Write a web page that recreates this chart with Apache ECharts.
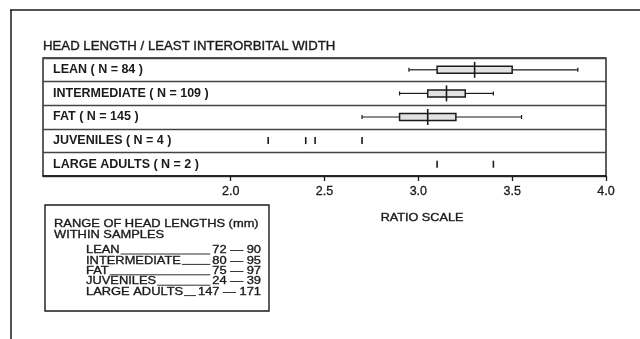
<!DOCTYPE html>
<html>
<head>
<meta charset="utf-8">
<script src="https://cdn.jsdelivr.net/npm/echarts@6/dist/echarts.min.js"></script>
<style>
  html, body { margin: 0; padding: 0; background: #fff; }
  #chart { width: 640px; height: 339px; }
</style>
</head>
<body>
<div id="chart"></div>
<script>
// Ratio of head length to least interorbital width, by sample group
const categories = [
  'LEAN ( N = 84 )',
  'INTERMEDIATE ( N = 109 )',
  'FAT ( N = 145 )',
  'JUVENILES ( N = 4 )',
  'LARGE ADULTS ( N = 2 )'
];
// Box-and-whisker summaries for the three large samples (rows 0..2)
const whiskerLow  = [2.95, 2.90, 2.70];
const boxLow      = [3.10, 3.05, 2.90];
const medians     = [3.30, 3.15, 3.05];
const boxHigh     = [3.50, 3.25, 3.20];
const whiskerHigh = [3.85, 3.40, 3.55];
// Individual observations for the small samples
const juvenileValues   = [2.20, 2.40, 2.45, 2.70];
const largeAdultValues = [3.10, 3.40];
// Axis ticks
const tickValues = [2.0, 2.5, 3.0, 3.5, 4.0];

// Range of head lengths (mm) within each sample
const rangeNames = ['LEAN', 'INTERMEDIATE', 'FAT', 'JUVENILES', 'LARGE ADULTS'];
const rangeMin = [72, 80, 75, 24, 147];
const rangeMax = [90, 95, 97, 39, 171];

const FONT = '"Liberation Sans", Arial, sans-serif';
const INK = '#1a1a1a';
const WIDE = 1.12;   // horizontal stretch for the lettering

const boxData = categories.slice(0, 3).map((c, i) =>
  [i, whiskerLow[i], boxLow[i], medians[i], boxHigh[i], whiskerHigh[i]]);
const pointData = juvenileValues.map(v => [v, 3])
  .concat(largeAdultValues.map(v => [v, 4]));

function renderBox(params, api) {
  const row = api.value(0);
  const pW0 = api.coord([api.value(1), row]);
  const pB0 = api.coord([api.value(2), row]);
  const pM  = api.coord([api.value(3), row]);
  const pB1 = api.coord([api.value(4), row]);
  const pW1 = api.coord([api.value(5), row]);
  const y = pM[1];
  const bh = 7, mh = 16, ch = 4;
  const lineStyle = { stroke: INK, lineWidth: 1.2 };
  return {
    type: 'group',
    children: [
      { type: 'line', shape: { x1: pW0[0], y1: y, x2: pB0[0], y2: y }, style: lineStyle },
      { type: 'line', shape: { x1: pB1[0], y1: y, x2: pW1[0], y2: y }, style: lineStyle },
      { type: 'line', shape: { x1: pW0[0], y1: y - ch / 2, x2: pW0[0], y2: y + ch / 2 }, style: lineStyle },
      { type: 'line', shape: { x1: pW1[0], y1: y - ch / 2, x2: pW1[0], y2: y + ch / 2 }, style: lineStyle },
      { type: 'rect', shape: { x: pB0[0], y: y - bh / 2, width: pB1[0] - pB0[0], height: bh },
        style: { fill: '#e2e2e2', stroke: INK, lineWidth: 1.5 } },
      { type: 'line', shape: { x1: pM[0], y1: y - mh / 2, x2: pM[0], y2: y + mh / 2 },
        style: { stroke: INK, lineWidth: 1.6 } }
    ]
  };
}

function renderPoint(params, api) {
  const p = api.coord([api.value(0), api.value(1)]);
  const h = 7;
  return {
    type: 'line',
    shape: { x1: p[0], y1: p[1] - h / 2, x2: p[0], y2: p[1] + h / 2 },
    style: { stroke: INK, lineWidth: 1.6 }
  };
}

// Text width helper for the leader lines in the range table
const measureCtx = document.createElement('canvas').getContext('2d');
function textWidth(str, size) {
  measureCtx.font = size + 'px ' + FONT;
  return measureCtx.measureText(str).width * WIDE;
}

// Slightly heavy, stretched lettering
function label(x, y, text, size, align, stretch) {
  return {
    type: 'text', x: x, y: y, scaleX: stretch || WIDE,
    style: { text: text, font: size + 'px ' + FONT, fill: INK,
      stroke: INK, lineWidth: 0.35,
      align: align || 'left', verticalAlign: 'middle' }
  };
}

// Range table inset
const tableX = 45, tableY = 205, tableW = 224, tableH = 106;
const itemSize = 11.5;
const nameX = 86, valueRight = 261, rowStart = 250, rowStep = 10.4;
const tableChildren = [
  { type: 'rect', shape: { x: tableX, y: tableY, width: tableW, height: tableH },
    style: { fill: '#fff', stroke: INK, lineWidth: 1.4 } },
  label(54, 224, 'RANGE OF HEAD LENGTHS (mm)', 11.5),
  label(54, 235, 'WITHIN SAMPLES', 11.5)
];
rangeNames.forEach((name, i) => {
  const y = rowStart + i * rowStep;
  const valueText = rangeMin[i] + ' \u2014 ' + rangeMax[i];
  const nameEnd = nameX + textWidth(name, itemSize) + 1;
  const valueStart = valueRight - textWidth(valueText, itemSize) - 2;
  tableChildren.push(
    label(nameX, y, name, itemSize),
    { type: 'line', shape: { x1: nameEnd, y1: y + 4, x2: valueStart, y2: y + 4 },
      style: { stroke: INK, lineWidth: 0.9 } },
    label(valueRight, y, valueText, itemSize, 'right')
  );
});

const chart = echarts.init(document.getElementById('chart'), null, { renderer: 'canvas' });
chart.setOption({
  animation: false,
  backgroundColor: '#fff',
  grid: {
    left: 43, right: 34, top: 58, bottom: 163,
    show: true, borderColor: INK, borderWidth: 1.4, backgroundColor: 'transparent'
  },
  xAxis: {
    type: 'value', min: 1.0, max: 4.0, interval: 0.5,
    axisLine: { show: true, lineStyle: { color: INK, width: 1.5 } },
    axisTick: { show: true, length: 5, customValues: tickValues, lineStyle: { color: INK, width: 1.3 } },
    axisLabel: {
      customValues: tickValues, margin: 9,
      formatter: v => v.toFixed(1),
      color: INK, fontSize: 12.5, fontFamily: FONT,
      textBorderColor: INK, textBorderWidth: 0.3
    },
    splitLine: { show: false }
  },
  yAxis: {
    type: 'category', data: categories, inverse: true,
    axisLine: { show: false }, axisTick: { show: false },
    axisLabel: {
      inside: true, margin: 10, color: INK, fontSize: 12.5, fontWeight: 'bold', fontFamily: FONT
    },
    splitLine: { show: true, lineStyle: { color: '#444', width: 1.3 } }
  },
  series: [
    { type: 'custom', renderItem: renderBox, data: boxData,
      encode: { x: [1, 2, 3, 4, 5], y: 0 }, z: 3 },
    { type: 'custom', renderItem: renderPoint, data: pointData,
      encode: { x: 0, y: 1 }, z: 3 }
  ],
  graphic: [
    // outer frame
    { type: 'line', shape: { x1: 10, y1: 10, x2: 640, y2: 10 }, style: { stroke: INK, lineWidth: 1.5 } },
    { type: 'line', shape: { x1: 11, y1: 10, x2: 11, y2: 339 }, style: { stroke: INK, lineWidth: 1.5 } },
    label(43, 47, 'HEAD LENGTH / LEAST INTERORBITAL WIDTH', 12, 'left', 1.1),
    label(422, 218, 'RATIO SCALE', 11, 'center', 1.15),
    { type: 'group', children: tableChildren }
  ]
});
</script>
</body>
</html>
